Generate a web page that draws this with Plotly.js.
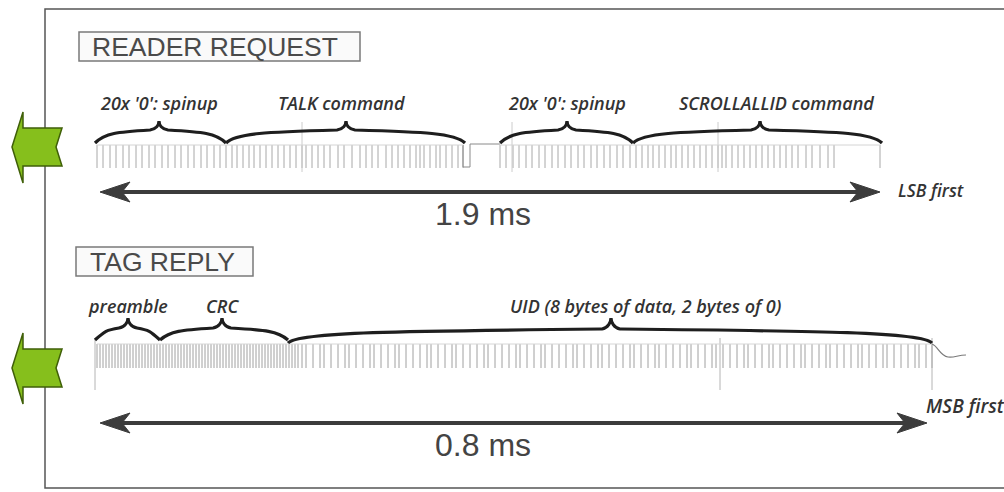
<!DOCTYPE html>
<html>
<head>
<meta charset="utf-8">
<script src="https://cdn.plot.ly/plotly-3.0.1.min.js"></script>
<style>html,body{margin:0;padding:0;background:#fff;}#chart{width:1004px;height:492px;}</style>
</head>
<body>
<div id="chart"></div>
<script>
// ---- data (x positions on the diagram's time axis) ----
const readerSegLabels = ["20x '0': spinup", "TALK command", "20x '0': spinup", "SCROLLALLID command"];
const readerSegStart  = [95, 226, 500, 633];
const readerSegEnd    = [226, 465, 633, 882];
const readerSegPeak   = [159, 346, 567, 760];

const tagSegLabels = ["preamble", "CRC", "UID (8 bytes of data, 2 bytes of 0)"];
const tagSegStart  = [95, 160, 288];
const tagSegEnd    = [160, 288, 932];
const tagSegPeak   = [128, 222, 611];

const readerPulses1 = [97,103,110,116,123,129,136,142,149,155,162,168,175,181,188,194,201,207,214,220,226,232,237,243,249,254,260,266,272,278,284,290,296,302,306,312,318,324,330,338,344,352,360,366,372,378,386,392,398,404,410,416,420,424,430,436,440,446,452,458,463];
const readerPulses2 = [500,506,513,519,526,532,539,545,552,558,565,571,578,584,591,597,604,610,617,623,630,636,642,648,653,659,665,671,676,682,688,694,700,706,712,718,722,726,732,738,744,750,756,762,768,774,780,786,792,798,806,812,820,828,834,880];
const tagPulses = [97,100,103,106,109,112,115,118,121,124,127,130,133,136,139,142,145,148,151,154,157,160,163,166,169,172,175,178,181,184,187,190,193,196,199,202,205,208,211,214,217,220,223,226,229,232,235,238,241,244,247,250,253,256,259,262,265,268,271,274,277,280,283,286,289,292,295,298,
302,306,313,320,324,331,338,345,349,356,363,370,374,381,388,395,399,406,413,420,427,431,438,445,452,456,463,470,477,484,488,495,502,509,516,520,527,534,541,545,552,559,566,573,577,584,591,598,602,609,616,623,630,634,641,648,655,659,666,673,680,687,691,698,705,712,716,723,730,737,744,748,755,762,769,773,780,787,794,801,805,812,819,826,830,837,844,851,858,862,869,876,883,887,894,901,908,915,919,926,932];
const readerMarkers = [302, 512, 718];
const tagMarkers = [95, 720, 932];

const sectionTitles = ["READER REQUEST", "TAG REPLY"];
const durations = ["1.9 ms", "0.8 ms"];
const bitOrders = ["LSB first", "MSB first"];
const durationStart = [100, 100];
const durationEnd = [880, 927];

// ---- build ----
function pulseTrace(xs, top, bottom, color, width) {
  const x = [], y = [];
  xs.forEach(p => { x.push(p, p, null); y.push(top, bottom, null); });
  return {type: 'scatter', mode: 'lines', x: x, y: y, hoverinfo: 'skip',
          line: {color: color, width: width}};
}

const traces = [
  pulseTrace(readerPulses1, 145, 168, '#a8a8a8', 1),
  pulseTrace(readerPulses2, 145, 168, '#a8a8a8', 1),
  pulseTrace(readerMarkers, 122, 172, '#cccccc', 1),
  pulseTrace(tagPulses, 344, 368, '#a0a0a0', 1),
  pulseTrace(tagMarkers, 338, 390, '#b4b4b4', 1)
];

const shapes = [];
const annotations = [];
const labelFont = {family:'Open Sans, sans-serif', size:18, color:'#333', style:'italic', weight:600};

// frame
shapes.push({type:'path', path:'M1004,9 L45,9 L45,488 L1004,488', line:{color:'#555', width:1.5}});

// title boxes
shapes.push({type:'rect', x0:79, x1:360, y0:32, y1:61, line:{color:'#7a7a7a', width:1.5}, fillcolor:'#fafafa'});
shapes.push({type:'rect', x0:76, x1:253, y0:247, y1:276, line:{color:'#7a7a7a', width:1.5}, fillcolor:'#fafafa'});
annotations.push({x:90, y:47, text:sectionTitles[0], xanchor:'left', yanchor:'middle', showarrow:false,
  font:{family:'Liberation Sans, Arial, sans-serif', size:26.5, color:'#4a4a4a'}});
annotations.push({x:88, y:262, text:sectionTitles[1], xanchor:'left', yanchor:'middle', showarrow:false,
  font:{family:'Liberation Sans, Arial, sans-serif', size:26.5, color:'#4a4a4a'}});

// green arrows
function greenArrow(cy) {
  return {type:'path',
    path:`M12,${cy} L23,${cy-35} L23,${cy-19} L62,${cy-19} L56,${cy} L62,${cy+19} L23,${cy+19} L23,${cy+36} Z`,
    fillcolor:'#86bf1c', line:{color:'#3f5f08', width:1.5}};
}
shapes.push(greenArrow(147));
shapes.push(greenArrow(368));

// reader baseline / gap
shapes.push({type:'path', path:'M463,145 L463,167 L470,167 L470,144 L500,144', line:{color:'#8a8a8a', width:1}});
shapes.push({type:'line', x0:97, x1:463, y0:145, y1:145, line:{color:'#d4d4d4', width:1}});
shapes.push({type:'line', x0:500, x1:880, y0:145, y1:145, line:{color:'#d4d4d4', width:1}});
// tag baseline + end squiggle
shapes.push({type:'line', x0:97, x1:932, y0:344, y1:344, line:{color:'#d6d6d6', width:1}});
shapes.push({type:'path', path:'M932,344 C938,346 940,356 948,357 C954,358 958,355 966,355', line:{color:'#7a7a7a', width:1.2}});

// braces
function brace(x0, x1, xm, yb, ys, yt) {
  const a = x0 + (xm - x0) * 0.35, b = x1 - (x1 - xm) * 0.35;
  return {type:'path',
    path:`M${x0},${yb} C${x0+10},${ys+1} ${a},${ys} ${xm-9},${ys-2} C${xm-3},${ys-3} ${xm},${yt+4} ${xm},${yt} ` +
         `C${xm},${yt+4} ${xm+3},${ys-3} ${xm+9},${ys-2} C${b},${ys} ${x1-10},${ys+1} ${x1},${yb}`,
    line:{color:'#1e1e1e', width:3.2}};
}
readerSegLabels.forEach((lab, i) => {
  shapes.push(brace(readerSegStart[i], readerSegEnd[i], readerSegPeak[i], 143, 132, 121));
  annotations.push({x:readerSegPeak[i] + (i===3?16:(i===1?-5:0)), y:103, text:lab, showarrow:false, xanchor:'center', yanchor:'middle',
    font:labelFont});
});
tagSegLabels.forEach((lab, i) => {
  const yb = i === 2 ? 343 : 340;
  const ys = i === 2 ? 331 : 330;
  shapes.push(brace(tagSegStart[i], tagSegEnd[i], tagSegPeak[i], yb, ys, 318));
  annotations.push({x:tagSegPeak[i] + (i===2?34:0), y:306, text:lab, showarrow:false, xanchor:'center', yanchor:'middle',
    font:labelFont});
});

// duration arrows
function dblArrow(xa, xb, y) {
  shapes.push({type:'line', x0:xa+20, x1:xb-20, y0:y, y1:y, line:{color:'#3c3c3c', width:4}});
  shapes.push({type:'path', path:`M${xa},${y} L${xa+30},${y-10} L${xa+22},${y} L${xa+30},${y+10} Z`, fillcolor:'#3c3c3c', line:{color:'#3c3c3c', width:1}});
  shapes.push({type:'path', path:`M${xb},${y} L${xb-30},${y-10} L${xb-22},${y} L${xb-30},${y+10} Z`, fillcolor:'#3c3c3c', line:{color:'#3c3c3c', width:1}});
}
dblArrow(durationStart[0], durationEnd[0], 192);
dblArrow(durationStart[1], durationEnd[1], 423);
annotations.push({x:483, y:214, text:durations[0], showarrow:false, xanchor:'center', yanchor:'middle',
  font:{family:'Liberation Sans, Arial, sans-serif', size:32, color:'#444'}});
annotations.push({x:483, y:445, text:durations[1], showarrow:false, xanchor:'center', yanchor:'middle',
  font:{family:'Liberation Sans, Arial, sans-serif', size:32, color:'#444'}});
annotations.push({x:896, y:190, text:bitOrders[0], showarrow:false, xanchor:'left', yanchor:'middle',
  font:{family:'Open Sans, sans-serif', size:17.5, color:'#333', style:'italic', weight:600}});
annotations.push({x:924, y:406, text:bitOrders[1], showarrow:false, xanchor:'left', yanchor:'middle',
  font:{family:'Open Sans, sans-serif', size:19, color:'#333', style:'italic', weight:600}});

const layout = {
  width:1004, height:492, margin:{l:0, r:0, t:0, b:0},
  paper_bgcolor:'#ffffff', plot_bgcolor:'#ffffff', showlegend:false,
  xaxis:{range:[0,1004], visible:false, fixedrange:true},
  yaxis:{range:[492,0], visible:false, fixedrange:true},
  shapes:shapes, annotations:annotations
};
Plotly.newPlot('chart', traces, layout, {staticPlot:true, displayModeBar:false});
</script>
</body>
</html>
